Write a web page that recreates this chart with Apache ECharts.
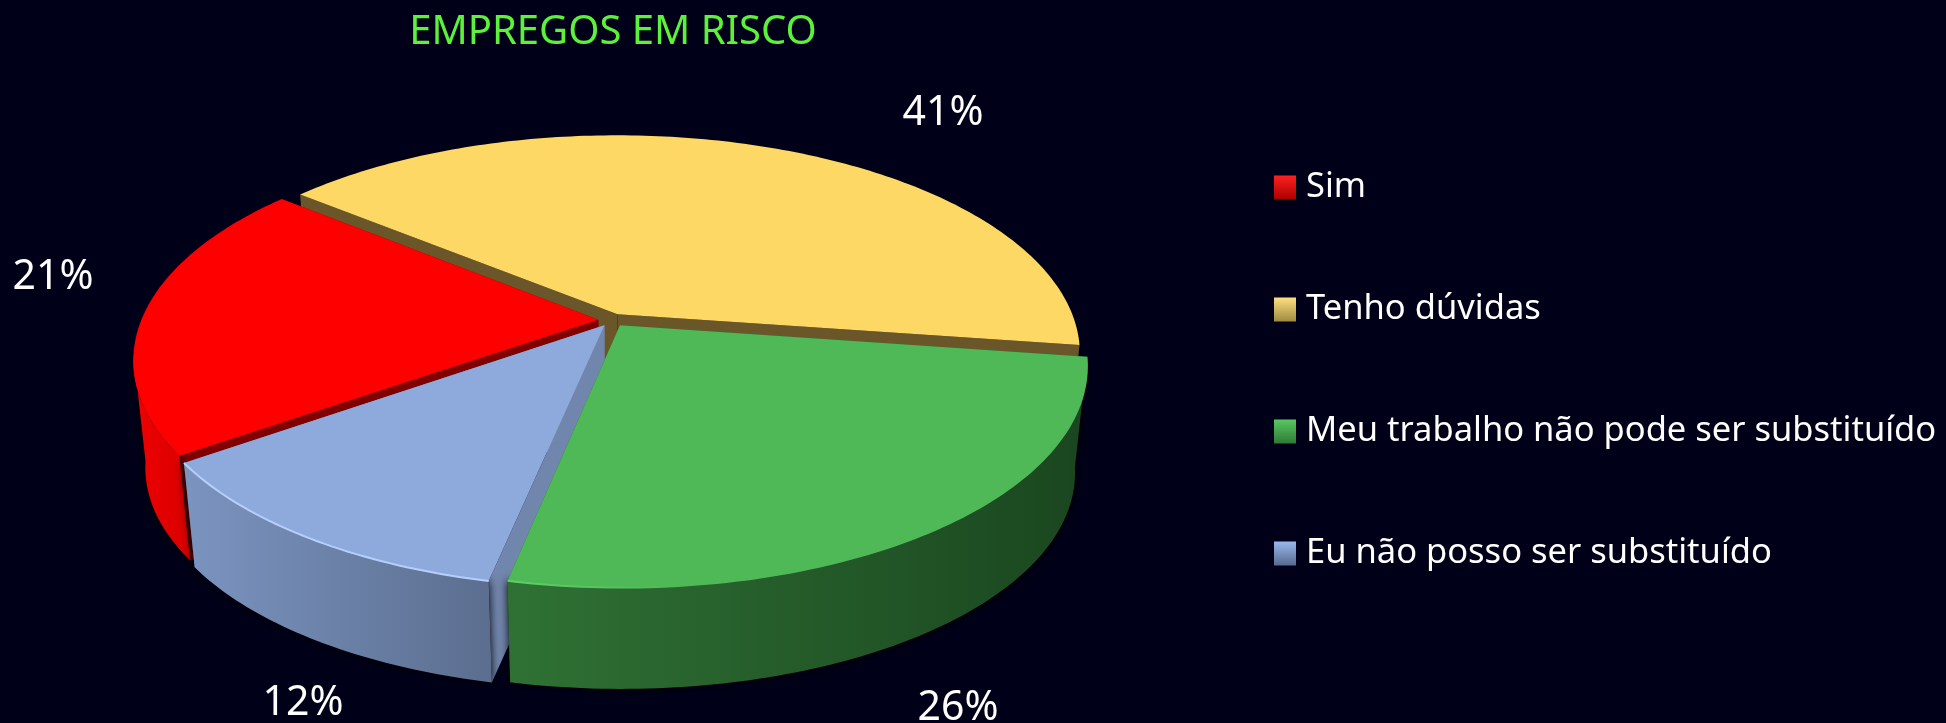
<!DOCTYPE html>
<html>
<head>
<meta charset="utf-8">
<title>Empregos em risco</title>
<script src="https://cdn.jsdelivr.net/npm/echarts@6/dist/echarts.min.js"></script>
<style>
html, body { margin: 0; padding: 0; background: #000018; }
#main { width: 1946px; height: 723px; }
</style>
</head>
<body>
<div id="main"></div>
<script>
var titleText = 'EMPREGOS EM RISCO';
var categories = ['Sim', 'Tenho dúvidas', 'Meu trabalho não pode ser substituído', 'Eu não posso ser substituído'];
// labels are rounded, slice sizes estimated from the drawn angles
var sliceValues = [20.6, 41.4, 26, 12];
var percentLabels = ['21%', '41%', '26%', '12%'];

// colours per slice: top face, cut face, wall left/right, rim highlight
var topColors = ['#ff0000', '#fdd864', '#4eb956', '#8ea9db'];
var faceColors = ['#800000', '#6b5629', '#2a6a30', '#7186ad'];
var wallLeft = ['#f00000', '#8a7030', '#2f7134', '#7b94c0'];
var wallRight = ['#d80000', '#6b5629', '#1a461f', '#5b6e8f'];
var rimColors = [null, null, '#5fd068', '#b4cffc'];
// where Excel left the percent labels (page px)
var labelPos = [[53, 277], [943, 113], [958, 708], [303, 703]];

// fake perspective of the 3d pie
var cx = 612, cy = 320, Rx = 457, Ry = 213, persp = 0.18;
var depth = 108, bottomScale = 0.975, explode = 0.03;
var firstAngle = -125; // clockwise from far side, degrees

var total = 0;
for (var i = 0; i < sliceValues.length; i++) {
    total += sliceValues[i];
}

function project(X, Y, bottom) {
    var s = 1 / (1 - persp * Y);
    if (bottom) {
        return [cx + bottomScale * Rx * X * s, cy + depth + bottomScale * Ry * Y * s];
    }
    return [cx + Rx * X * s, cy + Ry * Y * s];
}

function sliceRange(idx) {
    var a = firstAngle;
    for (var i = 0; i < idx; i++) {
        a += sliceValues[i] / total * 360;
    }
    return [a, a + sliceValues[idx] / total * 360];
}

function renderSlice(idx) {
    var range = sliceRange(idx);
    var mid = (range[0] + range[1]) / 2 * Math.PI / 180;
    var ex = explode * Math.sin(mid), ey = -explode * Math.cos(mid);
    var topArc = [], botArc = [], wallTop = [], wallBot = [];
    for (var a = range[0]; ; a += 1) {
        var d = Math.min(a, range[1]);
        var rad = d * Math.PI / 180;
        var X = ex + Math.sin(rad), Y = ey - Math.cos(rad);
        topArc.push(project(X, Y, false));
        botArc.push(project(X, Y, true));
        // only the part of the rim that faces the viewer gets a wall
        if (-Math.cos(rad) > 0.15) {
            wallTop.push(project(X, Y, false));
            wallBot.push(project(X, Y, true));
        }
        if (a >= range[1]) break;
    }
    var apexTop = project(ex, ey, false), apexBot = project(ex, ey, true);
    var n = topArc.length - 1;
    var children = [];
    // cut faces
    children.push({ type: 'polygon', shape: { points: [apexTop, topArc[0], botArc[0], apexBot] },
        style: { fill: faceColors[idx] } });
    children.push({ type: 'polygon', shape: { points: [apexTop, topArc[n], botArc[n], apexBot] },
        style: { fill: faceColors[idx] } });
    // outer wall
    if (wallTop.length > 1) {
        children.push({ type: 'polygon', shape: { points: wallTop.concat(wallBot.reverse()) },
            style: {
                fill: new echarts.graphic.LinearGradient(0, 0, 1, 0, [
                    { offset: 0, color: wallLeft[idx] }, { offset: 1, color: wallRight[idx] }
                ]),
                shadowBlur: 10, shadowColor: '#000000'
            } });
    }
    // top face
    children.push({ type: 'polygon', shape: { points: [apexTop].concat(topArc) },
        style: { fill: topColors[idx] } });
    if (rimColors[idx]) {
        children.push({ type: 'polyline', shape: { points: topArc },
            style: { fill: null, lineWidth: 2,
                stroke: idx == 2
                    ? new echarts.graphic.LinearGradient(0, 0, 1, 0, [
                        { offset: 0, color: rimColors[idx] }, { offset: 0.3, color: topColors[idx] }, { offset: 1, color: topColors[idx] }
                    ])
                    : rimColors[idx] } });
    }
    children.push({ type: 'text', style: {
        text: percentLabels[idx], x: labelPos[idx][0], y: labelPos[idx][1],
        fill: '#ffffff', font: '41px "Noto Sans"', align: 'center', verticalAlign: 'middle'
    } });
    return { type: 'group', children: children };
}

// back slices first so nearer ones cover them
var drawOrder = [1, 0, 3, 2];
var series = [];
var legendColors = [
    ['#ff2020', '#a80000'], ['#ffe080', '#a08a40'], ['#58c860', '#2f7a36'], ['#9ab8ee', '#566a8c']
];
for (var k = 0; k < drawOrder.length; k++) {
    (function (idx) {
        series.push({
            name: categories[idx],
            type: 'custom',
            coordinateSystem: 'none',
            silent: true,
            z: k + 1,
            itemStyle: {
                color: new echarts.graphic.LinearGradient(0, 0, 0, 1, [
                    { offset: 0, color: legendColors[idx][0] }, { offset: 1, color: legendColors[idx][1] }
                ])
            },
            data: [sliceValues[idx]],
            renderItem: function () {
                return renderSlice(idx);
            }
        });
    })(drawOrder[k]);
}

var myChart = echarts.init(document.getElementById('main'));
myChart.setOption({
    backgroundColor: '#000018',
    animation: false,
    title: {
        text: titleText,
        left: 608,
        top: 8,
        textAlign: 'center',
        textStyle: { color: '#5cf23a', fontSize: 40, fontWeight: 'normal', fontFamily: 'Noto Sans' }
    },
    legend: {
        data: categories,
        orient: 'vertical',
        left: 1269,
        top: 165,
        icon: 'rect',
        itemWidth: 22,
        itemHeight: 24,
        itemGap: 87,
        selectedMode: false,
        textStyle: { color: '#ffffff', fontSize: 34.5, fontFamily: 'Noto Sans', padding: [0, 0, 0, 5] }
    },
    series: series
});
</script>
</body>
</html>
